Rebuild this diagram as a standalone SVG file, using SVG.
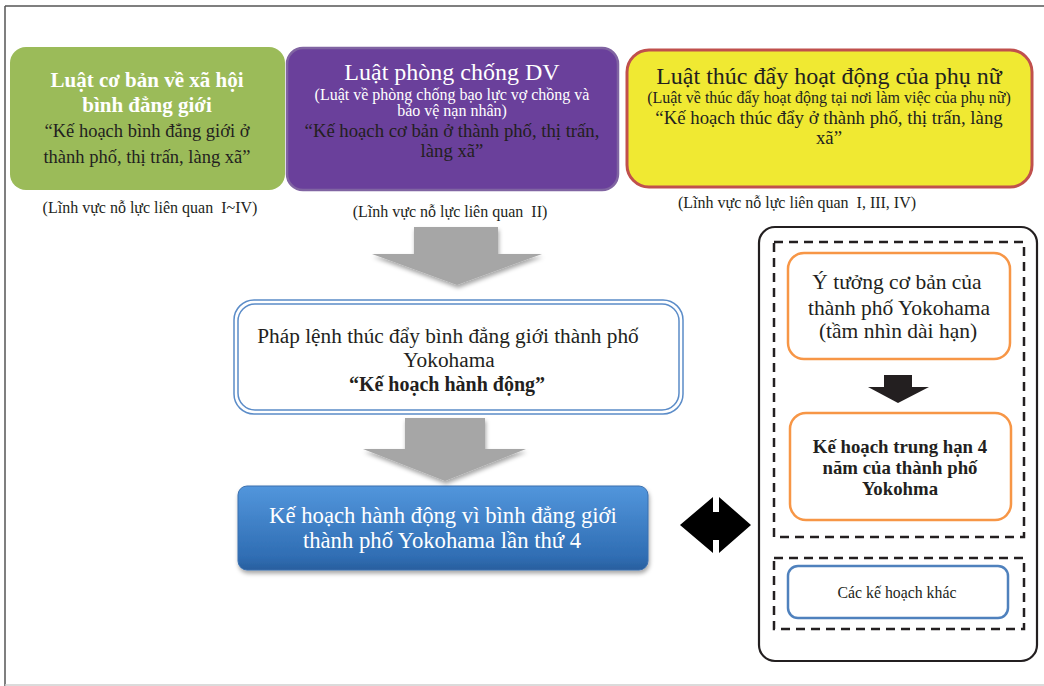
<svg xmlns="http://www.w3.org/2000/svg" width="1044" height="686" viewBox="0 0 1044 686">
<defs>
<linearGradient id="blueGrad" x1="0" y1="0" x2="0" y2="1">
<stop offset="0" stop-color="#5296dc"/>
<stop offset="0.85" stop-color="#2f6db3"/>
<stop offset="1" stop-color="#2a5f9e"/>
</linearGradient>
<filter id="shadow" x="-10%" y="-10%" width="130%" height="140%">
<feDropShadow dx="1" dy="3" stdDeviation="2" flood-color="#000" flood-opacity="0.35"/>
</filter>
</defs>
<style>
text{font-family:"Liberation Serif","Times New Roman",serif;text-anchor:middle;}
.w{fill:#ffffff;}
.d{fill:#231f20;}
.b{font-weight:bold;}
.lbl{font-size:16px;fill:#231f20;white-space:pre;}
.dash{fill:none;stroke:#231f20;stroke-width:2.5;stroke-dasharray:9 6;}
.orange{fill:#ffffff;stroke:#f79646;stroke-width:2.5;}
</style>
<rect width="1044" height="686" fill="#ffffff"/>
<g id="frame">
<line x1="5" y1="6" x2="1044" y2="6" stroke="#555" stroke-width="1.5"/>
<line x1="5" y1="6" x2="5" y2="686" stroke="#555" stroke-width="1.5"/>
<line x1="5" y1="685" x2="1044" y2="685" stroke="#cfcfcf" stroke-width="1.5"/>
</g>
<g id="node-green">
<rect x="10" y="47" width="275" height="143" rx="16" fill="#9bbb59"/>
<text class="w b" x="147" y="87" font-size="21">Luật cơ bản về xã hội</text>
<text class="w b" x="147" y="112" font-size="21">bình đẳng giới</text>
<text class="d" x="147" y="137" font-size="18.5">“Kế hoạch bình đẳng giới ở</text>
<text class="d" x="147" y="163" font-size="18.5">thành phố, thị trấn, làng xã”</text>
<text class="lbl" x="150" y="213" xml:space="preserve">(Lĩnh vực nỗ lực liên quan  I~IV)</text>
</g>
<g id="node-purple">
<rect x="287" y="48" width="331" height="142" rx="16" fill="#6a409b" stroke="#8064a2" stroke-width="2.5"/>
<text class="w" x="452" y="80" font-size="24">Luật phòng chống DV</text>
<text class="w" x="452" y="100" font-size="16">(Luật về phòng chống bạo lực vợ chồng và</text>
<text class="w" x="452" y="116" font-size="16">bảo vệ nạn nhân)</text>
<text class="d" x="452" y="137" font-size="18.7">“Kế hoạch cơ bản ở thành phố, thị trấn,</text>
<text class="d" x="452" y="157" font-size="18.7">làng xã”</text>
<text class="lbl" x="450" y="217" xml:space="preserve">(Lĩnh vực nỗ lực liên quan  II)</text>
</g>
<g id="node-yellow">
<rect x="627" y="50" width="405" height="137" rx="22" fill="#f0e932" stroke="#c0504d" stroke-width="3"/>
<text class="d" x="829" y="84" font-size="24">Luật thúc đẩy hoạt động của phụ nữ</text>
<text class="d" x="829" y="103" font-size="16">(Luật về thúc đẩy hoạt động tại nơi làm việc của phụ nữ)</text>
<text class="d" x="829" y="124" font-size="18.8">“Kế hoạch thúc đẩy ở thành phố, thị trấn, làng</text>
<text class="d" x="829" y="144" font-size="18.8">xã”</text>
<text class="lbl" x="797" y="208" xml:space="preserve">(Lĩnh vực nỗ lực liên quan  I, III, IV)</text>
</g>
<g id="node-ordinance">
<rect x="234" y="300" width="449" height="114" rx="20" fill="#ffffff" stroke="#5b8cc8" stroke-width="1.5"/>
<rect x="238" y="304" width="441" height="106" rx="17" fill="none" stroke="#5b8cc8" stroke-width="1.5"/>
<text class="d" x="448" y="343" font-size="21.3">Pháp lệnh thúc đẩy bình đẳng giới thành phố</text>
<text class="d" x="449" y="367" font-size="21.3">Yokohama</text>
<text class="d b" x="447" y="391" font-size="20">“Kế hoạch hành động”</text>
</g>
<g id="node-plan4">
<rect x="238" y="486" width="410" height="84" rx="9" fill="url(#blueGrad)" stroke="#3a6fae" stroke-width="1" filter="url(#shadow)"/>
<text class="w" x="443" y="523" font-size="22.7">Kế hoạch hành động vì bình đẳng giới</text>
<text class="w" x="442" y="548" font-size="22.7">thành phố Yokohama lần thứ 4</text>
</g>
<g id="node-right">
<rect x="759" y="227" width="278" height="434" rx="16" fill="#ffffff" stroke="#231f20" stroke-width="2.2"/>
<rect class="dash" x="774" y="242" width="250" height="295"/>
<rect class="dash" x="774" y="558" width="250" height="71"/>
</g>
<g id="node-vision">
<rect class="orange" x="788" y="253" width="222" height="106" rx="16"/>
<text class="d" x="897" y="289" font-size="21.5">Ý tưởng cơ bản của</text>
<text class="d" x="899" y="315" font-size="21.5">thành phố Yokohama</text>
<text class="d" x="898" y="338" font-size="21.5">(tầm nhìn dài hạn)</text>
</g>
<g id="node-midterm">
<rect class="orange" x="790" y="413" width="221" height="107" rx="16"/>
<text class="d b" x="900" y="453" font-size="18.8">Kế hoạch trung hạn 4</text>
<text class="d b" x="900" y="474" font-size="18.8">năm của thành phố</text>
<text class="d b" x="900" y="495" font-size="18.8">Yokohma</text>
</g>
<g id="node-other">
<rect x="788" y="566" width="220" height="52" rx="10" fill="#ffffff" stroke="#4f81bd" stroke-width="2.5"/>
<text class="d" x="897" y="598" font-size="15.8">Các kế hoạch khác</text>
</g>
<g id="connectors">
<polygon points="414,227 498,227 498,254 542,254 457,285 372,254 414,254" fill="#a6a6a6" filter="url(#shadow)"/>
<polygon points="405,418 485,418 485,449 526,449 445,481 363,449 405,449" fill="#a6a6a6" filter="url(#shadow)"/>
<polygon points="680,525 713,497 713,512 719,512 719,497 751,525 719,553 719,540 713,540 713,553" fill="#000000"/>
<polygon points="884,375 912,375 912,387 929,387 898,403 868,387 884,387" fill="#231f20"/>
</g>
</svg>
